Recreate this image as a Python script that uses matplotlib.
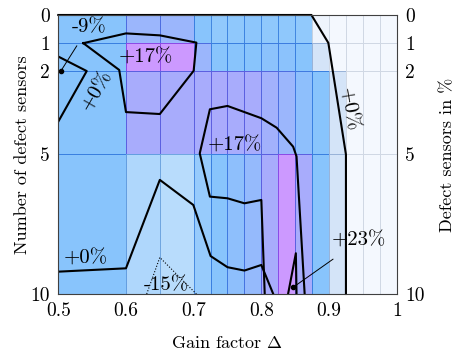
import numpy as np
import matplotlib.pyplot as plt
from matplotlib.colors import LinearSegmentedColormap

plt.rcParams['font.family'] = 'cmr10'
plt.rcParams['mathtext.fontset'] = 'cm'
plt.rcParams['axes.unicode_minus'] = False

# cell borders along the gain factor and the number of defect sensors
gain_edges = [0.5, 0.6, 0.65, 0.7, 0.725, 0.75, 0.775, 0.8, 0.825, 0.85,
              0.875, 0.9, 0.925, 0.95, 0.975, 1.0]
defect_edges = [0, 1, 2, 5, 10]

# shading level of every cell, one row per band of defect sensors
level_0_1 = [2.0, 2.6, 2.6, 2.0, 1.8, 1.85, 1.9, 1.85, 1.85, 1.8, 0.1, 0, 0, 0, 0]
level_1_2 = [2.0, 4.0, 4.0, 2.6, 2.0, 2.0, 2.0, 2.1, 2.1, 2.0, 0.5, 0, 0, 0, 0]
level_2_5 = [2.0, 3.0, 3.0, 3.0, 3.05, 3.0, 3.0, 2.8, 2.6, 2.2, 2.0, 0.5, 0, 0, 0]
level_5_10 = [2.0, 1.2, 1.0, 1.7, 2.0, 2.2, 2.4, 3.0, 4.0, 3.0, 2.0, 0.5, 0, 0, 0]

# contour lines (gain factor, number of defect sensors)
c17_top_x = [0.537, 0.6, 0.65, 0.704, 0.70, 0.65, 0.6, 0.59, 0.537]
c17_top_y = [1.01, 0.66, 0.73, 0.99, 2.0, 3.55, 3.48, 1.97, 1.01]
c17_mid_x = [0.805, 0.8, 0.775, 0.75, 0.724, 0.709, 0.724, 0.75, 0.8,
             0.8226, 0.847, 0.852, 0.864]
c17_mid_y = [10, 6.63, 6.75, 6.57, 6.51, 4.96, 3.38, 3.26, 3.70,
             4.04, 4.72, 5.07, 10]
c0_left_x = [0.5, 0.542, 0.5]
c0_left_y = [1.49, 2.01, 3.82]
c0_right_x = [0.5, 0.874, 0.899, 0.925, 0.925]
c0_right_y = [0, 0, 1.0, 5.0, 10]
c0_bottom_x = [0.5, 0.6, 0.65, 0.6995, 0.725, 0.75, 0.775, 0.8, 0.8176]
c0_bottom_y = [9.2, 9.08, 5.91, 6.81, 8.64, 9.04, 9.16, 8.96, 10]
c23_x = [0.8395, 0.851, 0.852]
c23_y = [10, 8.54, 10]
c15_x = [0.6306, 0.65, 0.704]
c15_y = [10, 8.69, 10]

x_ticks = [0.5, 0.6, 0.7, 0.8, 0.9, 1.0]
x_tick_labels = ['0.5', '0.6', '0.7', '0.8', '0.9', '1']
y_ticks = [0, 1, 2, 5, 10]
y_tick_labels = ['0', '1', '2', '5', '10']

cmap = LinearSegmentedColormap.from_list('gain', [
    (0.00, '#f4f8fe'),
    (0.125, '#d4e4f8'),
    (0.25, '#b8dcfc'),
    (0.50, '#88c4fc'),
    (0.75, '#a8acfc'),
    (1.00, '#cc99ff'),
])

fig = plt.figure(figsize=(4.54, 3.56), dpi=100)
ax = fig.add_axes([0.1284, 0.1742, 0.7454, 0.7837])

levels = np.array([level_0_1, level_1_2, level_2_5, level_5_10])
mesh = ax.pcolormesh(gain_edges, defect_edges, levels, cmap=cmap,
                     vmin=0, vmax=4, linewidth=0.7)
mesh.update_scalarmappable()
face = mesh.get_facecolors()
edge = face.copy()
# cell borders: a darker, more saturated shade of the cell colour
edge[:, :3] = face[:, :3] ** 2.2 * 0.9
mesh.set_edgecolors(edge)

lw = 1.5
ax.plot(c17_top_x, c17_top_y, color='k', lw=lw)
ax.plot(c17_mid_x, c17_mid_y, color='k', lw=lw)
ax.plot(c0_left_x, c0_left_y, color='k', lw=lw)
ax.plot(c0_right_x, c0_right_y, color='k', lw=lw, clip_on=False)
ax.plot(c0_bottom_x, c0_bottom_y, color='k', lw=lw)
ax.plot(c23_x, c23_y, color='k', lw=lw)
ax.plot(c15_x, c15_y, color='k', lw=0.8, ls=(0, (1, 1.6)))

fs = 15
ax.text(0.63, 1.54, '+17%', fontsize=fs, ha='center', va='center')
ax.text(0.761, 4.7, '+17%', fontsize=fs, ha='center', va='center')
ax.text(0.541, 8.72, '+0%', fontsize=fs, ha='center', va='center')
ax.text(0.659, 9.68, '-15%', fontsize=fs, ha='center', va='center')
ax.text(0.557, 2.72, '+0%', fontsize=fs, ha='center', va='center',
        rotation=60, rotation_mode='anchor')
ax.text(0.928, 3.4, '+0%', fontsize=fs, ha='center', va='center',
        rotation=-80, rotation_mode='anchor')
ax.annotate('-9%', xy=(0.504, 2.0), xytext=(0.545, 0.43), fontsize=fs,
            ha='center', va='center',
            arrowprops=dict(arrowstyle='-', color='k', lw=0.7,
                            shrinkA=6, shrinkB=0))
ax.plot([0.504], [2.0], 'o', color='k', ms=3)
ax.annotate('+23%', xy=(0.847, 9.76), xytext=(0.944, 8.1), fontsize=fs,
            ha='center', va='center',
            arrowprops=dict(arrowstyle='-', color='k', lw=0.7,
                            shrinkA=8, shrinkB=0))
ax.plot([0.847], [9.76], 'o', color='k', ms=3)

tfs = 14
ax.set_xlim(0.5, 1.0)
ax.set_ylim(10, 0)
ax.set_xticks(x_ticks)
ax.set_xticklabels(x_tick_labels)
ax.set_yticks(y_ticks)
ax.set_yticklabels(y_tick_labels)
ax.tick_params(length=0, labelsize=tfs, pad=6)
for s in ax.spines.values():
    s.set_color('#404040')
    s.set_linewidth(0.8)

ax2 = ax.twinx()
ax2.set_ylim(10, 0)
ax2.set_yticks(y_ticks)
ax2.set_yticklabels(y_tick_labels)
ax2.tick_params(length=0, labelsize=tfs, pad=6)
for s in ax2.spines.values():
    s.set_visible(False)

lfs = 13
ax.set_xlabel(r'Gain factor $\Delta$', fontsize=lfs, va='center')
ax.xaxis.set_label_coords(0.5, -0.176)
ax.set_ylabel('Number of defect sensors', fontsize=lfs, va='center')
ax.yaxis.set_label_coords(-0.107, 0.5)
ax2.set_ylabel('Defect sensors in %', fontsize=lfs, va='center')
ax2.yaxis.set_label_coords(1.149, 0.5)

fig.savefig('out.png', dpi=100)
